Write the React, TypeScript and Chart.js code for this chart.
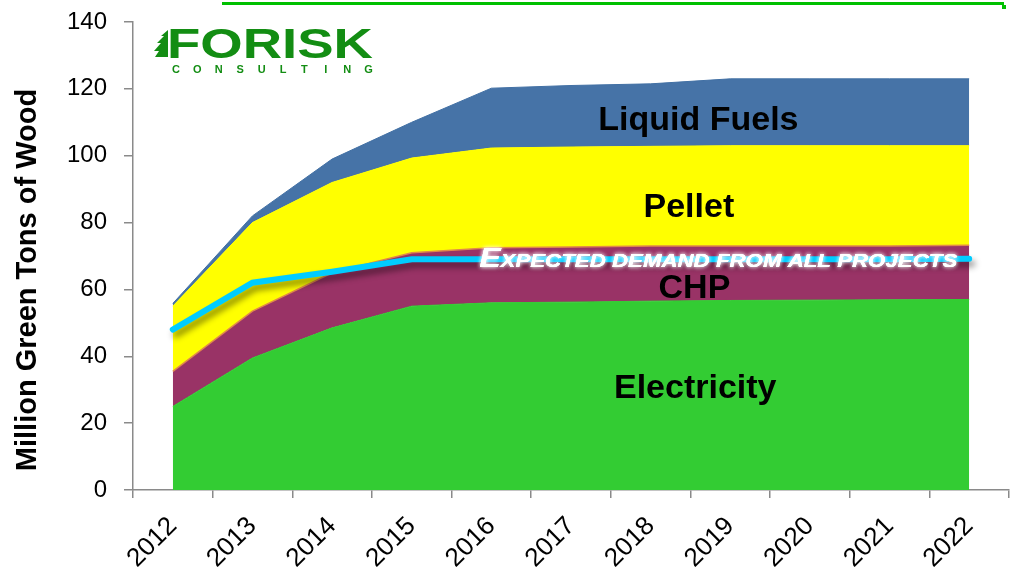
import React, { useEffect, useRef } from "react";
import { Chart, registerables } from "chart.js";

Chart.register(...registerables);

const years = ["2012", "2013", "2014", "2015", "2016", "2017", "2018", "2019", "2020", "2021", "2022"];
const electricity = [25, 39.5, 48.5, 55, 56, 56.2, 56.5, 56.7, 56.8, 56.9, 57];
const chp = [10.5, 14, 16.5, 16, 16.5, 16.5, 16.5, 16.3, 16.2, 16.1, 16.2];
const pellet = [19.5, 26.5, 27, 28.3, 29.8, 29.9, 29.8, 30, 30, 30, 29.8];
const liquidFuels = [0.8, 2, 7, 10.7, 17.9, 18.4, 18.7, 20, 20, 20, 20];
const expectedDemand = [48, 62, 65.3, 69, 69, 69, 69, 69, 69, 69, 69.2];

const seriesNames = ["Electricity", "CHP", "Pellet", "Liquid Fuels"];
const demandLabel = "Expected demand from all projects";
const yTitle = "Million Green Tons of Wood";

// label anchor positions in data units: [category index, value]
const areaLabelPos: [number, number][] = [
  [6.56, 30.2],
  [6.55, 60.1],
  [6.48, 84.4],
  [6.6, 110.4],
];

const FONT = '"Liberation Sans", Arial, sans-serif';

const decorPlugin = {
  id: "decor",
  beforeDatasetDraw(chart: any, args: any) {
    if (args.index === 4) {
      const ctx = chart.ctx;
      ctx.save();
      ctx.shadowColor = "rgba(0,0,0,0.45)";
      ctx.shadowBlur = 6;
      ctx.shadowOffsetX = 3;
      ctx.shadowOffsetY = 5;
    }
  },
  afterDatasetDraw(chart: any, args: any) {
    if (args.index === 4) chart.ctx.restore();
  },
  afterDatasetsDraw(chart: any) {
    const ctx = chart.ctx;
    const xs = chart.scales.x;
    const ys = chart.scales.y;
    ctx.save();
    ctx.fillStyle = "#000";
    ctx.font = `bold 34px ${FONT}`;
    ctx.textAlign = "center";
    ctx.textBaseline = "middle";
    seriesNames.forEach((n, i) => {
      const [ci, v] = areaLabelPos[i];
      ctx.fillText(n, xs.getPixelForValue(ci), ys.getPixelForValue(v));
    });
    ctx.restore();

    // Expected demand text (small caps, italic, white with glow)
    ctx.save();
    const big = `italic bold 27px ${FONT}`;
    const small = `italic bold 19px ${FONT}`;
    const up = demandLabel.toUpperCase();
    const first = up[0];
    const rest = up.slice(1);
    ctx.font = big;
    const w1 = ctx.measureText(first).width;
    ctx.font = small;
    const w2 = ctx.measureText(rest).width;
    const left = xs.getPixelForValue(3.85);
    const right = xs.getPixelForValue(9.85);
    const sx = (right - left) / (w1 + w2);
    const base = ys.getPixelForValue(69) + 8;
    ctx.translate(left, base);
    ctx.scale(sx, 1);
    ctx.textAlign = "left";
    ctx.textBaseline = "alphabetic";
    for (let pass = 0; pass < 3; pass++) {
      ctx.shadowColor = pass < 2 ? "rgba(255,255,255,0.8)" : "rgba(0,0,0,0)";
      ctx.shadowBlur = pass < 2 ? 4 : 0;
      ctx.fillStyle = "#fff";
      ctx.font = big;
      ctx.fillText(first, 0, 0);
      ctx.font = small;
      ctx.fillText(rest, w1, 0);
    }
    ctx.restore();
  },
  afterDraw(chart: any) {
    const ctx = chart.ctx;
    const ys = chart.scales.y;
    ctx.save();
    // y axis title
    ctx.save();
    ctx.translate(28, (ys.top + ys.bottom) / 2 + 24);
    ctx.rotate(-Math.PI / 2);
    ctx.fillStyle = "#000";
    ctx.font = `bold 29px ${FONT}`;
    ctx.textAlign = "center";
    ctx.textBaseline = "middle";
    ctx.fillText(yTitle, 0, 0);
    ctx.restore();

    // top green rule
    ctx.fillStyle = "#00C000";
    ctx.fillRect(222, 2, 782, 3);
    ctx.fillRect(1002, 5, 4, 4);

    // logo
    const g = "#138d13";
    ctx.fillStyle = g;
    ctx.beginPath();
    ctx.moveTo(168, 30);
    ctx.lineTo(161, 36);
    ctx.lineTo(164, 36);
    ctx.lineTo(157, 43);
    ctx.lineTo(161, 43);
    ctx.lineTo(154, 51);
    ctx.lineTo(159, 51);
    ctx.lineTo(155, 57);
    ctx.lineTo(168, 57);
    ctx.closePath();
    ctx.fill();

    ctx.font = `bold 42px ${FONT}`;
    const word = "FORISK";
    const ww = ctx.measureText(word).width;
    ctx.save();
    ctx.translate(167, 58);
    ctx.scale(206 / ww, 1);
    ctx.textAlign = "left";
    ctx.textBaseline = "alphabetic";
    ctx.fillText(word, 0, 0);
    ctx.restore();

    ctx.font = `bold 11px ${FONT}`;
    ctx.textAlign = "center";
    ctx.textBaseline = "alphabetic";
    const sub = "CONSULTING";
    for (let i = 0; i < sub.length; i++) {
      ctx.fillText(sub[i], 176 + i * 21.4, 73);
    }
    ctx.restore();
  },
};

export default function App() {
  const ref = useRef<HTMLCanvasElement>(null);
  useEffect(() => {
    if (!ref.current) return;
    Chart.defaults.font.family = FONT;
    const areaBase = {
      pointRadius: 0,
      borderWidth: 1,
      tension: 0,
      stack: "supply",
    };
    const chart = new Chart(ref.current, {
      type: "line",
      data: {
        labels: years,
        datasets: [
          { ...areaBase, label: seriesNames[0], data: electricity, backgroundColor: "#33CC33", borderColor: "#33CC33", fill: "origin" },
          { ...areaBase, label: seriesNames[1], data: chp, backgroundColor: "#993366", borderColor: "#E0884A", borderWidth: 1.5, fill: "-1" },
          { ...areaBase, label: seriesNames[2], data: pellet, backgroundColor: "#FFFF00", borderColor: "#FFFF00", fill: "-1" },
          { ...areaBase, label: seriesNames[3], data: liquidFuels, backgroundColor: "#4673A7", borderColor: "#4270A4", fill: "-1" },
          {
            label: demandLabel,
            data: expectedDemand,
            stack: "demand",
            borderColor: "#00CCFF",
            borderWidth: 6,
            borderCapStyle: "round",
            pointRadius: 0,
            fill: false,
            tension: 0,
            order: -1,
          } as any,
        ],
      },
      options: {
        animation: false,
        responsive: false,
        devicePixelRatio: 1,
        layout: { padding: { top: 22, right: 7, left: 0, bottom: 0 } },
        plugins: { legend: { display: false }, tooltip: { enabled: false } },
        scales: {
          x: {
            offset: true,
            grid: { offset: true, drawOnChartArea: false, drawTicks: true, tickLength: 8, color: "#8a8a8a", lineWidth: 1.5 },
            border: { display: true, color: "#8a8a8a", width: 1.5 },
            ticks: { color: "#000", font: { size: 26 }, maxRotation: 45, minRotation: 45, padding: 13 },
            afterFit: (s: any) => {
              s.height = 78;
              s.paddingLeft = 0;
              s.paddingRight = 0;
            },
          },
          y: {
            stacked: true,
            min: 0,
            max: 140,
            ticks: { stepSize: 20, color: "#000", font: { size: 24 }, padding: 17 },
            grid: { drawOnChartArea: false, drawTicks: true, tickLength: 9, color: "#8a8a8a", lineWidth: 1.5 },
            border: { display: true, color: "#8a8a8a", width: 1.5 },
            title: { display: false },
            afterFit: (s: any) => {
              s.width = 133;
              s.paddingTop = 0;
              s.paddingBottom = 0;
            },
          },
        },
      },
      plugins: [decorPlugin],
    });
    return () => chart.destroy();
  }, []);
  return (
    <div style={{ position: "absolute", left: 0, top: 0, width: 1016, height: 568, background: "#fff" }}>
      <canvas ref={ref} width={1016} height={568} style={{ width: 1016, height: 568 }} />
    </div>
  );
}
